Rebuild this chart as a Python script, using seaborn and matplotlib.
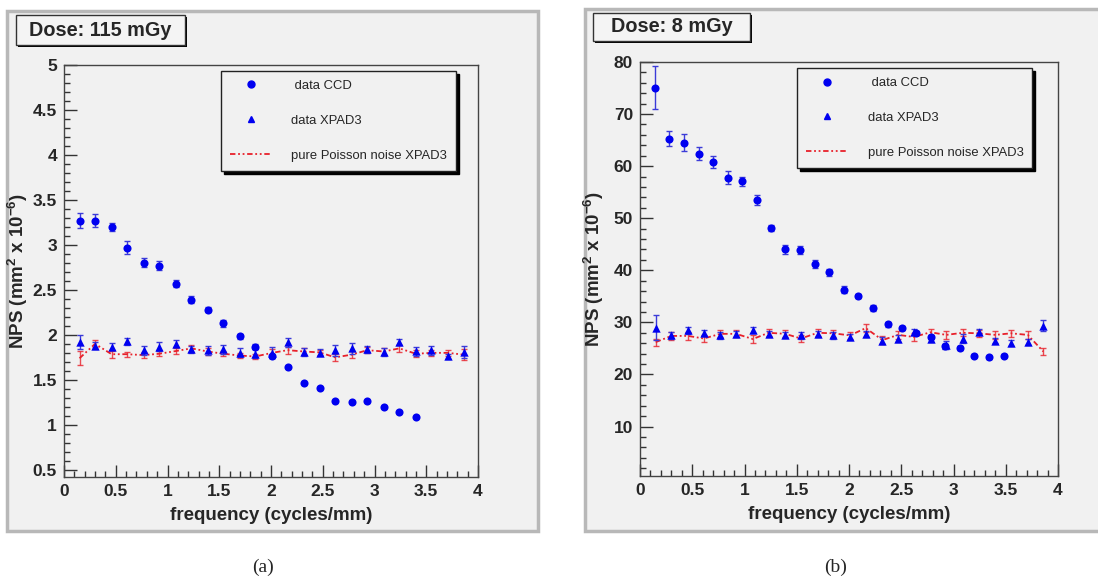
import matplotlib
matplotlib.use("Agg")
import matplotlib.pyplot as plt
import seaborn as sns
from matplotlib.patches import Rectangle
from matplotlib.lines import Line2D
from matplotlib.ticker import MultipleLocator, FuncFormatter

# ---- data ----
freq = [0.15, 0.30, 0.46, 0.61, 0.77, 0.92, 1.08, 1.23, 1.39, 1.54, 1.70, 1.85, 2.01,
        2.16, 2.32, 2.47, 2.62, 2.78, 2.93, 3.09, 3.24, 3.40, 3.55, 3.71, 3.86]

# (a) 115 mGy
ccd_a = [3.27, 3.27, 3.20, 2.97, 2.80, 2.77, 2.57, 2.39, 2.28, 2.13, 1.985, 1.87, 1.76,
         1.64, 1.47, 1.41, 1.27, 1.25, 1.27, 1.20, 1.14, 1.09]
ccd_a_err = [0.085, 0.07, 0.04, 0.07, 0.05, 0.05, 0.04, 0.04, 0.03, 0.04, 0.03, 0.03, 0.02,
             0.01, 0.01, 0.01, 0.01, 0.01, 0.01, 0.01, 0.01, 0.01]
xpad_a = [1.92, 1.88, 1.87, 1.93, 1.83, 1.87, 1.90, 1.84, 1.83, 1.84, 1.80, 1.79, 1.80,
          1.92, 1.81, 1.80, 1.83, 1.85, 1.84, 1.81, 1.92, 1.82, 1.83, 1.76, 1.81]
xpad_a_err = [0.08, 0.04, 0.04, 0.04, 0.05, 0.05, 0.04, 0.04, 0.05, 0.05, 0.05, 0.05, 0.06,
              0.05, 0.04, 0.04, 0.06, 0.06, 0.04, 0.04, 0.03, 0.05, 0.05, 0.03, 0.07]
poisson_a = [1.74, 1.90, 1.785, 1.785, 1.775, 1.79, 1.82, 1.85, 1.815, 1.79, 1.77, 1.76, 1.80,
             1.83, 1.815, 1.805, 1.75, 1.78, 1.83, 1.815, 1.85, 1.79, 1.80, 1.80, 1.78]
poisson_a_err = [0.08, 0.04, 0.04, 0.03, 0.03, 0.03, 0.03, 0.04, 0.04, 0.03, 0.03, 0.03, 0.04,
                 0.04, 0.04, 0.03, 0.04, 0.04, 0.03, 0.04, 0.04, 0.04, 0.03, 0.03, 0.06]

# (b) 8 mGy
freq_ccd_b = [0.14, 0.28, 0.42, 0.56, 0.70, 0.84, 0.98, 1.12, 1.25, 1.39, 1.53, 1.67, 1.81,
              1.95, 2.09, 2.23, 2.37, 2.51, 2.64, 2.78, 2.92, 3.06, 3.20, 3.34, 3.48]
ccd_b = [75.1, 65.3, 64.5, 62.4, 60.8, 57.8, 57.1, 53.5, 48.1, 44.0, 43.9, 41.2, 39.6,
         36.3, 35.0, 32.8, 29.6, 28.9, 27.9, 27.2, 25.4, 25.1, 23.6, 23.3, 23.6]
ccd_b_err = [4.2, 1.5, 1.6, 1.2, 1.1, 1.2, 0.9, 0.9, 0.6, 0.8, 0.8, 0.7, 0.7,
             0.6, 0.4, 0.6, 0.5, 0.4, 0.4, 0.4, 0.5, 0.4, 0.3, 0.3, 0.3]
xpad_b = [29.0, 27.5, 28.5, 27.9, 27.5, 27.8, 28.6, 27.8, 27.6, 27.5, 27.8, 27.5, 27.2,
          27.8, 26.5, 26.9, 28.1, 26.8, 25.7, 26.9, 28.2, 26.5, 26.0, 26.3, 29.4]
xpad_b_err = [2.4, 0.6, 0.7, 0.6, 0.6, 0.6, 0.6, 0.6, 0.6, 0.6, 0.6, 0.6, 0.6,
              0.6, 0.6, 0.6, 0.6, 0.6, 0.8, 0.8, 0.6, 0.5, 0.6, 0.6, 1.1]
poisson_b = [26.2, 27.4, 27.4, 26.9, 27.8, 27.8, 26.8, 28.0, 27.8, 26.9, 28.0, 27.9, 27.5,
             28.9, 26.6, 27.6, 27.2, 28.1, 27.6, 28.0, 27.9, 27.6, 27.9, 27.6, 24.4]
poisson_b_err = [0.7] * 25

BLUE = "#0000f0"
RED = "#e8202a"
BG = "#f1f1f1"
W, H = 1098, 579

sns.set_theme(style="white")
plt.rcParams["font.family"] = ["Liberation Sans", "DejaVu Sans"]
plt.rcParams["mathtext.fontset"] = "custom"
plt.rcParams["mathtext.rm"] = "Liberation Sans:bold"
plt.rcParams["mathtext.it"] = "Liberation Sans:bold"
plt.rcParams["mathtext.bf"] = "Liberation Sans:bold"

fig = plt.figure(figsize=(W / 100, H / 100), dpi=100)
fig.patch.set_facecolor("white")


def fig_rect(x0, y0, x1, y1):
    # pixel box (top-left origin) -> figure fraction
    return (x0 / W, 1 - y1 / H, (x1 - x0) / W, (y1 - y0) / H)


def add_canvas(x0, y0, x1, y1):
    l, b, w, h = fig_rect(x0, y0, x1, y1)
    fig.patches.append(Rectangle((l, b), w, h, transform=fig.transFigure,
                                 facecolor=BG, edgecolor="#b8b8b8", lw=2.5, zorder=-1))


def add_dose_box(x0, y0, x1, y1, text):
    l, b, w, h = fig_rect(x0 + 2, y0 + 2, x1 + 2, y1 + 2)
    fig.patches.append(Rectangle((l, b), w, h, transform=fig.transFigure,
                                 facecolor="black", edgecolor="black", lw=0, zorder=5))
    l, b, w, h = fig_rect(x0, y0, x1, y1)
    fig.patches.append(Rectangle((l, b), w, h, transform=fig.transFigure,
                                 facecolor="#f4f4f4", edgecolor="#333333", lw=1, zorder=6))
    fig.text(l + w / 2, b + h / 2, text, ha="center", va="center", fontsize=14.3,
             fontweight="bold", zorder=7)


def draw_panel(ax, xc, yc, ec, xx, yx, ex, yp, ep, ylim, ymajor, yminor, leg_x0, leg_x1):
    ax.set_facecolor(BG)
    ax.errorbar(xc, yc, yerr=ec, fmt="none", ecolor="#3b3bd8", elinewidth=1, capsize=2, zorder=3)
    ax.errorbar(xx, yx, yerr=ex, fmt="none", ecolor="#3b3bd8", elinewidth=1, capsize=2, zorder=3)
    ax.errorbar(xx, yp, yerr=ep, fmt="none", ecolor=RED, elinewidth=1, capsize=2,
                alpha=0.8, zorder=2)
    sns.lineplot(x=xx, y=yp, color=RED, lw=1.3, errorbar=None, sort=False,
                 linestyle=(0, (3, 1.5, 1, 1.5, 1, 1.5)), ax=ax, zorder=2)
    sns.scatterplot(x=xc, y=yc, marker="o", color=BLUE, s=34, linewidth=0, ax=ax,
                    zorder=4, legend=False)
    sns.scatterplot(x=xx, y=yx, marker="^", color=BLUE, s=36, linewidth=0, ax=ax,
                    zorder=4, legend=False)

    ax.set_xlim(0, 4)
    ax.set_ylim(*ylim)
    ax.xaxis.set_major_locator(MultipleLocator(0.5))
    ax.xaxis.set_minor_locator(MultipleLocator(0.1))
    ax.yaxis.set_major_locator(MultipleLocator(ymajor))
    ax.yaxis.set_minor_locator(MultipleLocator(yminor))
    fmt = FuncFormatter(lambda v, p: f"{v:g}")
    ax.xaxis.set_major_formatter(fmt)
    ax.yaxis.set_major_formatter(fmt)
    ax.tick_params(which="major", direction="in", length=9, width=1, color="#333333",
                   labelsize=12.5, pad=5, left=True, bottom=True)
    ax.tick_params(which="minor", direction="in", length=4.5, width=1, color="#333333",
                   left=True, bottom=True)
    plt.setp(ax.get_xticklabels(), fontweight="bold")
    plt.setp(ax.get_yticklabels(), fontweight="bold")
    for s in ax.spines.values():
        s.set_color("#444444")
        s.set_linewidth(1)

    ax.set_xlabel("frequency (cycles/mm)", fontsize=13.5, fontweight="bold")
    ax.set_ylabel(r"NPS (mm$^{2}$ x 10$^{-6}$)", fontsize=13.5, fontweight="bold")
    ax.xaxis.set_label_coords(0.5, -0.072)
    ax.yaxis.set_label_coords(-0.081, 0.5)

    handles = [
        Line2D([], [], marker="o", color=BLUE, ls="none", markersize=5),
        Line2D([], [], marker="^", color=BLUE, ls="none", markersize=5),
        Line2D([], [], color=RED, lw=1.3, ls=(0, (3, 1.5, 1, 1.5, 1, 1.5))),
    ]
    labels = [" data CCD", "data XPAD3", "pure Poisson noise XPAD3"]
    leg = ax.legend(handles, labels, loc="upper left",
                    bbox_to_anchor=(leg_x0, 0.986, leg_x1 - leg_x0, 0), mode="expand",
                    borderaxespad=0, fontsize=9.4, handlelength=3.2, handletextpad=1.5,
                    borderpad=0.7, labelspacing=1.75, fancybox=False, framealpha=1,
                    facecolor=BG, edgecolor="#222222",
                    shadow={"color": "black", "alpha": 1})
    leg.get_frame().set_linewidth(1)


add_canvas(7, 11, 538, 531)
add_canvas(585, 9, 1104, 531)

ax_a = fig.add_axes(fig_rect(64, 65, 478, 477))
ax_b = fig.add_axes(fig_rect(640, 62, 1058, 476))

draw_panel(ax_a, freq[:len(ccd_a)], ccd_a, ccd_a_err, freq, xpad_a, xpad_a_err,
           poisson_a, poisson_a_err, (0.42, 5), 0.5, 0.1, 0.379, 0.947)
draw_panel(ax_b, freq_ccd_b, ccd_b, ccd_b_err, freq, xpad_b, xpad_b_err,
           poisson_b, poisson_b_err, (0.5, 80), 10, 2, 0.376, 0.938)

add_dose_box(16, 15, 185, 45, "Dose: 115 mGy")
add_dose_box(593, 13, 750, 41, "Dose: 8 mGy")

fig.text(263 / W, 1 - 567 / H, "(a)", ha="center", va="center", fontsize=14,
         family="Liberation Serif")
fig.text(836 / W, 1 - 567 / H, "(b)", ha="center", va="center", fontsize=14,
         family="Liberation Serif")

fig.savefig("out.png", dpi=100)
